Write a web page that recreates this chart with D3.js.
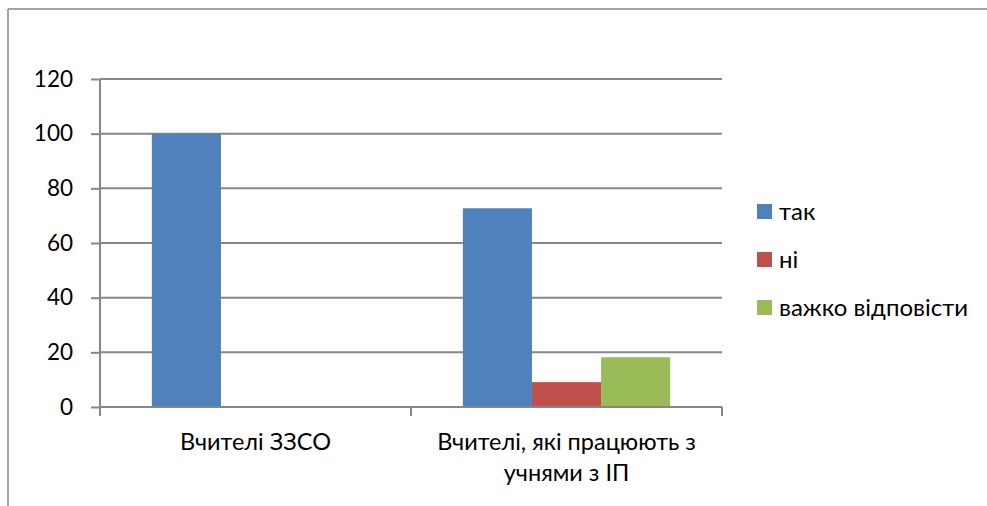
<!DOCTYPE html>
<html>
<head>
<meta charset="utf-8">
<script src="https://cdn.jsdelivr.net/npm/d3@7"></script>
<style>
  html, body { margin: 0; padding: 0; background: #fff; }
  svg { display: block; }
  text { font-family: Lato, "Open Sans", "Noto Sans", sans-serif; fill: #000; }
</style>
</head>
<body>
<svg id="chart" width="987" height="506"></svg>
<script>
const categories = ["Вчителі ЗЗСО", "Вчителі, які працюють з учнями з ІП"];
const seriesNames = ["так", "ні", "важко відповісти"];
const seriesTak = [100, 72.7];
const seriesNi = [0, 9.1];
const seriesVazhko = [0, 18.2];
const yTicks = [0, 20, 40, 60, 80, 100, 120];
const colors = ["#4F81BD", "#C0504D", "#9BBB59"];

const seriesValues = [seriesTak, seriesNi, seriesVazhko];

const svg = d3.select("#chart");
const W = 987, H = 506;
const gridColor = "#878787";
const plot = { left: 100, right: 722, top: 79, bottom: 407 };

// outer frame (top and left edges visible)
svg.append("line").attr("x1", 8).attr("x2", W).attr("y1", 9).attr("y2", 9)
  .attr("stroke", gridColor).attr("stroke-width", 1.5);
svg.append("line").attr("x1", 8).attr("x2", 8).attr("y1", 9).attr("y2", H)
  .attr("stroke", gridColor).attr("stroke-width", 1.5);

const y = d3.scaleLinear().domain([0, 120]).range([plot.bottom, plot.top]);
const x0 = d3.scaleBand().domain(categories).range([plot.left, plot.right]).paddingInner(0).paddingOuter(0);
const x1 = d3.scaleBand().domain(seriesNames).range([0, x0.bandwidth()]).paddingInner(0).paddingOuter(0.75);

// gridlines
svg.append("g").selectAll("line").data(yTicks.filter(t => t > 0)).join("line")
  .attr("x1", plot.left).attr("x2", plot.right)
  .attr("y1", d => y(d)).attr("y2", d => y(d))
  .attr("stroke", gridColor).attr("stroke-width", 2);

// bars
const groups = svg.append("g").selectAll("g").data(categories).join("g")
  .attr("transform", d => `translate(${x0(d)},0)`);
groups.selectAll("rect")
  .data((c, ci) => seriesNames.map((s, si) => ({ s, si, v: seriesValues[si][ci] })))
  .join("rect")
  .attr("x", d => x1(d.s))
  .attr("width", x1.bandwidth())
  .attr("y", d => y(d.v))
  .attr("height", d => y(0) - y(d.v))
  .attr("fill", d => colors[d.si]);

// y axis
const yAxis = svg.append("g").attr("transform", `translate(${plot.left},0)`)
  .call(d3.axisLeft(y).tickValues(yTicks).tickSize(9).tickPadding(18).tickFormat(d3.format("d")));
yAxis.select(".domain").attr("stroke", gridColor).attr("stroke-width", 2)
  .attr("d", `M0,${plot.top}V${plot.bottom}`);
yAxis.selectAll(".tick line").attr("stroke", gridColor).attr("stroke-width", 2);
yAxis.selectAll(".tick text").attr("font-size", 22.5).attr("fill", "#000")
  .style("font-family", "Lato, 'Open Sans', sans-serif");

// x axis
const xAxisG = svg.append("g").attr("transform", `translate(0,${plot.bottom})`);
xAxisG.append("line").attr("x1", plot.left).attr("x2", plot.right)
  .attr("stroke", gridColor).attr("stroke-width", 2);
const xTickPos = [plot.left].concat(categories.map(c => x0(c) + x0.bandwidth()));
xAxisG.selectAll(".xt").data(xTickPos).join("line").attr("class", "xt")
  .attr("x1", d => d).attr("x2", d => d).attr("y1", 0).attr("y2", 9)
  .attr("stroke", gridColor).attr("stroke-width", 2);

// category labels with wrapping
const catLabels = svg.append("g").selectAll("text").data(categories).join("text")
  .attr("x", d => x0(d) + x0.bandwidth() / 2)
  .attr("y", 450)
  .attr("text-anchor", "middle")
  .attr("font-size", 23.5);
catLabels.each(function(d) {
  const t = d3.select(this);
  const words = d.split(" ");
  const maxW = x0.bandwidth() - 10;
  let line = [];
  let tspan = t.append("tspan").attr("x", t.attr("x")).attr("dy", 0);
  words.forEach(w => {
    line.push(w);
    tspan.text(line.join(" "));
    if (tspan.node().getComputedTextLength() > maxW && line.length > 1) {
      line.pop();
      tspan.text(line.join(" "));
      line = [w];
      tspan = t.append("tspan").attr("x", t.attr("x")).attr("dy", 31).text(w);
    }
  });
});

// legend
const legend = svg.append("g").selectAll("g").data(seriesNames).join("g")
  .attr("transform", (d, i) => `translate(757,${204 + i * 48})`);
legend.append("rect").attr("width", 15).attr("height", 15).attr("fill", (d, i) => colors[i]);
legend.append("text").attr("x", 22).attr("y", 16).attr("font-size", 24).text(d => d);
</script>
</body>
</html>
